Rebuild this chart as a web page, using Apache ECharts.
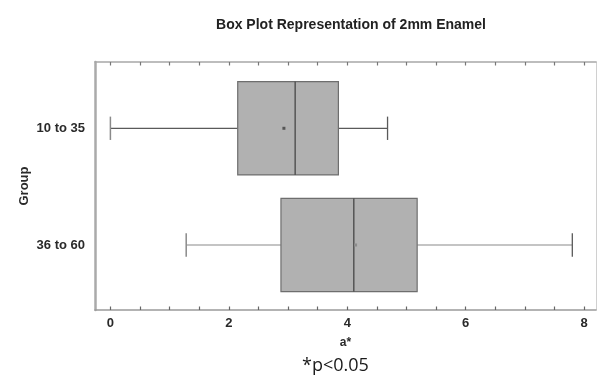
<!DOCTYPE html>
<html>
<head>
<meta charset="utf-8">
<script src="https://cdn.jsdelivr.net/npm/echarts@6/dist/echarts.min.js"></script>
<style>
  html, body { margin: 0; padding: 0; background: #fff; }
  #chart { width: 597px; height: 383px; }
</style>
</head>
<body>
<div id="chart"></div>
<script>
// Five-number summaries of a* per age group, plus the group mean
const groups      = ['10 to 35', '36 to 60'];
const whiskerLow  = [0.00, 1.28];
const q1          = [2.15, 2.88];
const median      = [3.12, 4.11];
const q3          = [3.85, 5.18];
const whiskerHigh = [4.68, 7.80];
const mean        = [2.93, 4.14];

const xLabels = [0, 2, 4, 6, 8];
const xTicks  = [0, 0.5, 1, 1.5, 2, 2.5, 3, 3.5, 4, 4.5, 5, 5.5, 6, 6.5, 7, 7.5, 8];

// first group sits at the top of the y axis
const yPos = groups.map((g, i) => groups.length - 1 - i);

const boxData = groups.map((g, i) => [
  whiskerLow[i], yPos[i], q1[i], median[i], q3[i], whiskerHigh[i], mean[i]
]);

const BOX_HALF = 0.4;
const CAP_HALF = 0.1;

function renderBox(params, api) {
  const y = api.value(1);
  const low = api.value(0), b1 = api.value(2), med = api.value(3),
        b3 = api.value(4), high = api.value(5), avg = api.value(6);
  const c = v => api.coord([v, y]);
  const top = api.coord([0, y + BOX_HALF])[1];
  const bot = api.coord([0, y - BOX_HALF])[1];
  const capTop = api.coord([0, y + CAP_HALF])[1];
  const capBot = api.coord([0, y - CAP_HALF])[1];
  const yc = c(low)[1];
  const xLow = c(low)[0], xQ1 = c(b1)[0], xMed = c(med)[0],
        xQ3 = c(b3)[0], xHigh = c(high)[0], xAvg = c(avg)[0];
  const whiskerStroke = { stroke: params.dataIndex === 0 ? '#5a5a5a' : '#8a8a8a', lineWidth: 1.2 };
  return {
    type: 'group',
    children: [
      { type: 'line', shape: { x1: xLow, y1: yc, x2: xQ1, y2: yc }, style: whiskerStroke },
      { type: 'line', shape: { x1: xQ3, y1: yc, x2: xHigh, y2: yc }, style: whiskerStroke },
      { type: 'line', shape: { x1: xLow, y1: capTop, x2: xLow, y2: capBot }, style: { stroke: '#8a8a8a', lineWidth: 1.5 } },
      { type: 'line', shape: { x1: xHigh, y1: capTop, x2: xHigh, y2: capBot }, style: { stroke: '#5a5a5a', lineWidth: 1.3 } },
      { type: 'rect', shape: { x: xQ1, y: top, width: xQ3 - xQ1, height: bot - top },
        style: { fill: '#b1b1b1', stroke: '#6e6e6e', lineWidth: 1.2 } },
      { type: 'line', shape: { x1: xMed, y1: top, x2: xMed, y2: bot }, style: { stroke: '#555', lineWidth: 1.5 } },
      { type: 'rect', shape: { x: xAvg - 1.5, y: yc - 1.5, width: 3, height: 3 },
        style: { fill: params.dataIndex === 0 ? '#555' : '#8c8c8c' } }
    ]
  };
}

const chart = echarts.init(document.getElementById('chart'), null, { renderer: 'canvas' });

const axisFont = { fontFamily: 'Liberation Sans', fontWeight: 'bold', fontSize: 13, color: '#2a2a2a' };

chart.setOption({
  animation: false,
  backgroundColor: '#fff',
  title: {
    text: 'Box Plot Representation of 2mm Enamel',
    left: 346, top: 13, textAlign: 'center',
    textStyle: { fontFamily: 'Liberation Sans', fontWeight: 'bold', fontSize: 14, color: '#222' }
  },
  grid: { left: 95, right: 1, top: 62, bottom: 73 },
  xAxis: [
    {
      type: 'value', position: 'bottom', min: -0.26, max: 8.2,
      name: 'a*', nameLocation: 'middle', nameGap: 27, nameMoveOverlap: false,
      nameTextStyle: Object.assign({}, axisFont, { fontSize: 12 }),
      axisLine: { show: true, onZero: false, lineStyle: { color: '#9a9a9a', width: 1.5 } },
      axisTick: { show: true, inside: true, length: 3.5, customValues: xTicks, lineStyle: { color: '#666', width: 1.2 } },
      axisLabel: Object.assign({ customValues: xLabels, margin: 7 }, axisFont),
      splitLine: { show: false }
    },
    {
      type: 'value', position: 'top', min: -0.26, max: 8.2,
      axisLine: { show: true, onZero: false, lineStyle: { color: '#a8a8a8', width: 1.5 } },
      axisTick: { show: true, inside: true, length: 3.5, customValues: xTicks, lineStyle: { color: '#777', width: 1.2 } },
      axisLabel: { show: false },
      splitLine: { show: false }
    }
  ],
  yAxis: [
    {
      type: 'value', position: 'left', min: -0.557, max: 1.568,
      name: 'Group', nameLocation: 'middle', nameGap: 64, nameRotate: 90, nameMoveOverlap: false,
      nameTextStyle: Object.assign({}, axisFont),
      axisLine: { show: true, onZero: false, lineStyle: { color: '#aaaaaa', width: 2.5 } },
      axisTick: { show: false },
      axisLabel: Object.assign({
        customValues: yPos, margin: 10,
        formatter: v => groups[groups.length - 1 - Math.round(v)]
      }, axisFont),
      splitLine: { show: false }
    },
    {
      type: 'value', position: 'right', min: -0.557, max: 1.568,
      axisLine: { show: true, onZero: false, lineStyle: { color: '#d0d0d0', width: 1 } },
      axisTick: { show: false },
      axisLabel: { show: false },
      splitLine: { show: false }
    }
  ],
  graphic: [
    {
      type: 'text', left: 302, top: 357,
      style: { text: '*p<0.05', fontFamily: 'Open Sans', fontSize: 18, fill: '#1a1a1a' }
    }
  ],
  series: [
    {
      type: 'custom',
      xAxisIndex: 0, yAxisIndex: 0,
      renderItem: renderBox,
      encode: { x: [0, 2, 3, 4, 5, 6], y: 1 },
      data: boxData,
      clip: false
    }
  ]
});
</script>
</body>
</html>
